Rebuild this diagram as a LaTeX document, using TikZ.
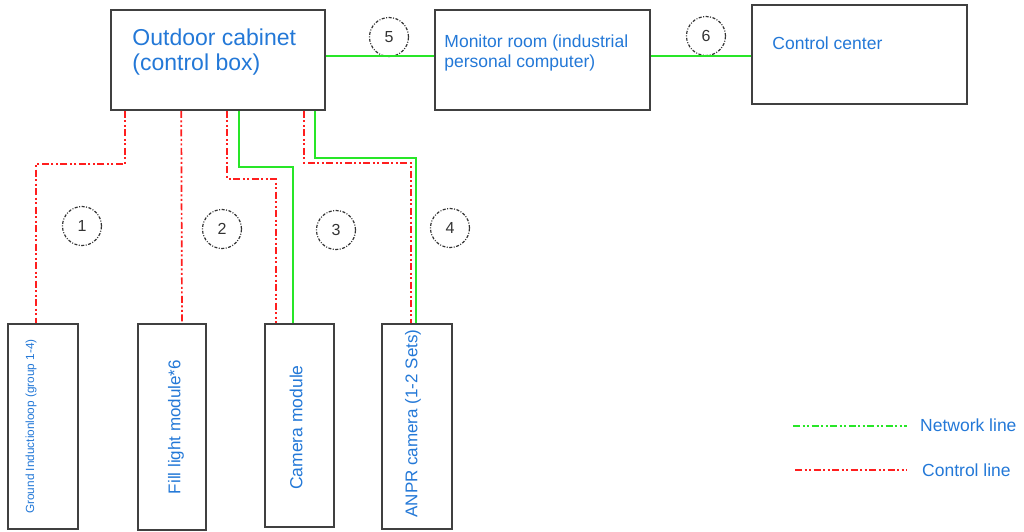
\documentclass[tikz,border=0pt]{standalone}
\usepackage{fontspec}
\setmainfont{Liberation Sans}
\usetikzlibrary{calc,positioning}

\definecolor{txtblue}{RGB}{35,120,215}
\definecolor{netgreen}{RGB}{40,230,40}
\definecolor{ctrlred}{RGB}{255,30,30}
\definecolor{boxgray}{RGB}{64,64,64}

\begin{document}
\begin{tikzpicture}[x=1pt, y=-1pt, >=latex]
\def \sp {1.7pt}
  \tikzstyle{block} = [draw, color=boxgray, rectangle, line width=1.5pt, inner sep=0]
  \tikzstyle{txt} = [text=txtblue, inner sep=0, align=left]
  \tikzstyle{num} = [draw=black!80, circle, dash pattern=on 3pt off 1.5pt on 1pt off 1.5pt,
                     line width=1.2pt, minimum size=39, inner sep=0, text=black!80,
                     font=\fontsize{16}{18}\selectfont]
  \tikzstyle{net} = [netgreen, line width=\sp, -]
  \tikzstyle{ctrl} = [ctrlred, line width=\sp, -,
                      dash pattern=on 7pt off 2.5pt on 2pt off 2.5pt on 2pt off 2.5pt]
  \tikzstyle{netleg} = [netgreen, line width=\sp, -,
                        dash pattern=on 7pt off 2.5pt on 2pt off 2.5pt on 2pt off 2.5pt]

\useasboundingbox (0,0) rectangle (1024,531);

%%%%%%%%%%%%%%%%%%%%%%%%%%%%%%%%%%%%%%%%%%%%%%%%%%%%%%%%%%%%%%%%%%%%%%%%%%%%%%%

\coordinate (cab_pose) at (218, 60);
\coordinate (mon_pose) at (542.5, 60);
\coordinate (cc_pose) at (859.5, 54.5);
\coordinate (gnd_pose) at (43, 426.5);
\coordinate (fill_pose) at (172, 427);
\coordinate (cam_pose) at (299.5, 425.5);
\coordinate (anpr_pose) at (417, 426.5);

%%%%%%%%%%%%%%%%%%%%%%%%%%%%%%%%%%%%%%%%%%%%%%%%%%%%%%%%%%%%%%%%%%%%%%%%%%%%%%%

\node[block, minimum width=214, minimum height=100] (cab) at (cab_pose) {};
\node[block, minimum width=215, minimum height=100] (mon) at (mon_pose) {};
\node[block, minimum width=215, minimum height=99] (cc) at (cc_pose) {};
\node[block, minimum width=70, minimum height=205] (gnd) at (gnd_pose) {};
\node[block, minimum width=68, minimum height=206] (fill) at (fill_pose) {};
\node[block, minimum width=69, minimum height=203] (cam) at (cam_pose) {};
\node[block, minimum width=70, minimum height=205] (anpr) at (anpr_pose) {};

% base anchor of a two-line node sits on its last line
\node[txt, anchor=base west, font=\fontsize{23}{24.5}\selectfont] (cab_txt)
  at ([shift={(22,61)}]cab.north west) {Outdoor cabinet\\(control box)};
\node[txt, anchor=base west, font=\fontsize{17.5}{20}\selectfont] (mon_txt)
  at ([shift={(10,58)}]mon.north west) {Monitor room (industrial\\personal computer)};
\node[txt, anchor=base west, font=\fontsize{17.5}{20}\selectfont] (cc_txt)
  at ([shift={(21,45)}]cc.north west) {Control center};

\node[txt, rotate=90, font=\fontsize{11.8}{13}\selectfont] (gnd_txt)
  at ([xshift=-12]gnd.center) {Ground Inductionloop (group 1-4)};
\node[txt, rotate=90, font=\fontsize{17}{19}\selectfont] (fill_txt)
  at ([xshift=4]fill.center) {Fill light module*6};
\node[txt, rotate=90, font=\fontsize{17.5}{19}\selectfont] (cam_txt)
  at ([xshift=-3.5,yshift=-2]cam.center) {Camera module};
\node[txt, rotate=90, font=\fontsize{17}{19}\selectfont] (anpr_txt)
  at ([xshift=-4,yshift=3]anpr.center) {ANPR camera (1-2 Sets)};

\node[num] (n1) at (82, 226) {1};
\node[num] (n2) at (222, 229) {2};
\node[num] (n3) at (336, 230) {3};
\node[num] (n4) at (450, 228) {4};
\node[num] (n5) at (389, 37) {5};
\node[num] (n6) at (706, 36) {6};

%%%%%%%%%%%%%%%%%%%%%%%%%%%%%%%%%%%%%%%%%%%%%%%%%%%%%%%%%%%%%%%%%%%%%%%%%%%%%%%

\draw[net] ([yshift=4]cab.east) -- ([yshift=4]mon.west);
\draw[net] ([yshift=4]mon.east) -- ([yshift=-1.5]cc.west);

\draw[ctrl] ([xshift=15]cab.south west) -- ++ (0,53) -| ([xshift=-7]gnd.north);
\draw[ctrl] ([xshift=71]cab.south west) -- ([xshift=10]fill.north);
\draw[ctrl] ([xshift=117]cab.south west) -- ++ (0,68) -| ([xshift=-23.5]cam.north);
\draw[net] ([xshift=129]cab.south west) -- ++ (0,56) -| ([xshift=-6.5]cam.north);
\draw[ctrl] ([xshift=194]cab.south west) -- ++ (0,52) -| ([xshift=-6]anpr.north);
\draw[net] ([xshift=205]cab.south west) -- ++ (0,47) -| ([xshift=-1]anpr.north);

%%%%%%%%%%%%%%%%%%%%%%%%%%%%%%%%%%%%%%%%%%%%%%%%%%%%%%%%%%%%%%%%%%%%%%%%%%%%%%%

\coordinate (net_a) at (793, 426);
\coordinate (net_b) at (907, 426);
\coordinate (ctrl_a) at (795, 470);
\coordinate (ctrl_b) at (907, 470);

\draw[netleg] (net_a) -- (net_b);
\draw[ctrl] (ctrl_a) -- (ctrl_b);
\node[txt, anchor=base west, font=\fontsize{17.5}{20}\selectfont] (net_txt)
  at (920, 431) {Network line};
\node[txt, anchor=base west, font=\fontsize{17.5}{20}\selectfont] (ctrl_txt)
  at (922, 476) {Control line};

\end{tikzpicture}
\end{document}
